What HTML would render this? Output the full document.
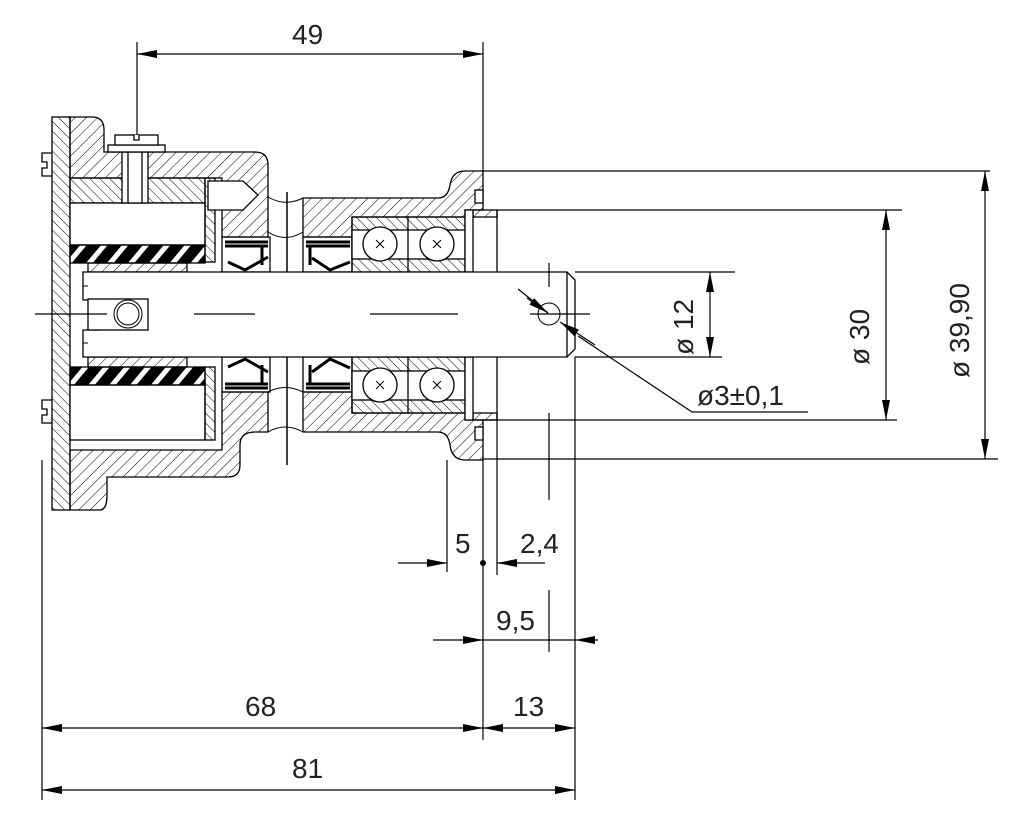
<!DOCTYPE html>
<html><head><meta charset="utf-8"><style>
html,body{margin:0;padding:0;background:#fff}
svg{display:block}
text{font-family:"Liberation Sans",sans-serif;fill:#222;font-weight:normal}
</style></head><body>
<svg width="1016" height="814" viewBox="0 0 1016 814" xmlns="http://www.w3.org/2000/svg">
<defs>
<pattern id="h1" patternUnits="userSpaceOnUse" width="8" height="8" patternTransform="rotate(45)">
<line x1="0" y1="0" x2="0" y2="8" stroke="#000" stroke-width="1"/></pattern>
<pattern id="h2" patternUnits="userSpaceOnUse" width="7" height="7" patternTransform="rotate(-45)">
<line x1="0" y1="0" x2="0" y2="7" stroke="#000" stroke-width="1"/></pattern>
<pattern id="sp" patternUnits="userSpaceOnUse" width="16" height="20" patternTransform="rotate(40)">
<rect x="0" y="0" width="11" height="20" fill="#000"/></pattern>
<marker id="a" viewBox="0 0 20 8" refX="20" refY="4" markerWidth="20" markerHeight="8" markerUnits="userSpaceOnUse" orient="auto-start-reverse"><path d="M0,0L20,4L0,8z" fill="#000"/></marker>
</defs>
<g stroke="#000" stroke-width="1.3" fill="none">
<rect x="52" y="117" width="18" height="393" fill="url(#h2)"/>
<path d="M52,153H42V162H47V168H42V176H52M52,400H42V409H47V415H42V423H52"/>
<path d="M70,117H92Q104,117 104,130V152H255Q268,152 268,165V237H222V178H70Z" fill="url(#h1)"/>
<path d="M70,510H100Q107,510 107,495V477H228Q240,477 240,465V445Q240,432 255,432H268V392H222V450H70Z" fill="url(#h1)"/>
<rect x="70" y="178" width="135" height="25" fill="url(#h2)"/>
<rect x="70" y="203" width="135" height="42" fill="#fff"/>
<rect x="70" y="385" width="135" height="55" fill="#fff"/>
<rect x="205" y="178" width="10" height="84" fill="url(#h2)"/>
<rect x="205" y="367" width="10" height="73" fill="url(#h2)"/>
<rect x="122" y="152" width="26" height="51" fill="#fff"/>
<line x1="128" y1="152" x2="128" y2="203"/><line x1="142" y1="152" x2="142" y2="203"/>
<rect x="108" y="145" width="57" height="7" fill="#fff"/>
<rect x="115" y="135" width="43" height="10" fill="#fff"/>
<path d="M134,135V140H139V135" fill="#fff"/>
<path d="M208,181H243L258,195L243,210H208Z" fill="#fff"/>
<rect x="70" y="245" width="135" height="18" fill="url(#sp)"/>
<rect x="70" y="367" width="135" height="18" fill="url(#sp)"/>
<rect x="88" y="263" width="99" height="9" fill="url(#h1)"/>
<rect x="88" y="357" width="99" height="10" fill="url(#h1)"/>
<path d="M222,237H270V272H222Z"/>
<path d="M225,242H268M225,246H268M262,246V265M228,262L245,270L268,257" stroke-width="3"/>
<path d="M222,357H270V392H222Z"/>
<path d="M225,388H268M225,384H268M262,384V365M228,367L245,359L268,372" stroke-width="3"/>
<path d="M268,197Q285,207 303,198M268,232Q285,243 303,232M268,392Q285,383 303,392M268,432Q285,422 303,432" stroke-width="1"/>
<line x1="287" y1="192" x2="287" y2="283" stroke-width="1.5"/>
<line x1="287" y1="340" x2="287" y2="465" stroke-width="1.5"/>
<path d="M303,198H438Q448,198 450,185Q452,171 465,171H483V210H465V217H352V237H303Z" fill="url(#h1)"/>
<path d="M303,432H438Q448,432 450,445Q452,460 465,460H483V420H465V413H352V392H303Z" fill="url(#h1)"/>
<rect x="473" y="210" width="24" height="7" fill="url(#h1)"/>
<rect x="473" y="413" width="24" height="7" fill="url(#h1)"/>
<rect x="475" y="190" width="8" height="13" fill="#fff"/>
<rect x="475" y="427" width="8" height="13" fill="#fff"/>
<path d="M303,237H352V272H303Z"/>
<path d="M306,242H350M306,246H350M310,246V265M312,258L330,270L350,262" stroke-width="3"/>
<path d="M303,357H352V392H303Z"/>
<path d="M306,388H350M306,384H350M310,384V365M312,372L330,359L350,368" stroke-width="3"/>
<rect x="352" y="217" width="113" height="55" fill="url(#h2)"/>
<rect x="352" y="230" width="113" height="29" fill="#fff"/>
<line x1="408" y1="217" x2="408" y2="272"/>
<rect x="352" y="357" width="113" height="56" fill="url(#h2)"/>
<rect x="352" y="371" width="113" height="29" fill="#fff"/>
<line x1="408" y1="357" x2="408" y2="413"/>
<g fill="#fff"><circle cx="380" cy="244" r="17"/><circle cx="437" cy="244" r="17"/><circle cx="380" cy="385" r="17"/><circle cx="437" cy="385" r="17"/></g>
<path d="M376,240l8,8M384,240l-8,8M433,240l8,8M441,240l-8,8M376,381l8,8M384,381l-8,8M433,381l8,8M441,381l-8,8" stroke-width="1"/>
<rect x="465" y="210" width="8" height="62" fill="#fff"/>
<rect x="465" y="357" width="8" height="63" fill="#fff"/>
<line x1="497" y1="210" x2="497" y2="272"/><line x1="497" y1="357" x2="497" y2="420"/>
<path d="M83,272H567L575,280V349L567,357H83V330H100V300H83Z" fill="#fff"/>
<path d="M83,272V285M83,345V357M88,286H83V300M88,343H83V330" stroke-width="1"/>
<line x1="567" y1="272" x2="567" y2="357"/>
<rect x="88" y="299" width="60" height="31" fill="#fff"/>
<circle cx="128" cy="314" r="14" stroke-width="1"/><circle cx="128" cy="314" r="11" stroke-width="1"/>
<circle cx="549" cy="314" r="11" stroke-width="1"/>
<g stroke-width="1.2"><line x1="35" y1="314" x2="107" y2="314"/><line x1="194" y1="314" x2="255" y2="314"/><line x1="370" y1="314" x2="458" y2="314"/><line x1="530" y1="314" x2="590" y2="314"/>
<line x1="549" y1="263" x2="549" y2="287"/><line x1="549" y1="413" x2="549" y2="500"/></g>
</g>
<g stroke="#000" stroke-width="1.2" fill="none">
<line x1="137" y1="42" x2="137" y2="135"/><line x1="483" y1="42" x2="483" y2="171"/>
<line x1="137" y1="54" x2="483" y2="54" marker-start="url(#a)" marker-end="url(#a)"/>
<line x1="483" y1="171" x2="990" y2="171"/><line x1="483" y1="459" x2="998" y2="459"/>
<line x1="985" y1="171" x2="985" y2="459" marker-start="url(#a)" marker-end="url(#a)"/>
<line x1="497" y1="210" x2="902" y2="210"/><line x1="483" y1="420" x2="897" y2="420"/>
<line x1="886" y1="210" x2="886" y2="420" marker-start="url(#a)" marker-end="url(#a)"/>
<line x1="575" y1="272" x2="735" y2="272"/><line x1="575" y1="357" x2="722" y2="357"/>
<line x1="710" y1="272" x2="710" y2="357" marker-start="url(#a)" marker-end="url(#a)"/>
<path d="M518,289L548,313M578,336L692,412H808"/>
<line x1="527" y1="298" x2="548" y2="313" marker-end="url(#a)"/>
<line x1="595" y1="345" x2="560" y2="322" marker-end="url(#a)"/>
<line x1="42" y1="460" x2="42" y2="800"/><line x1="483" y1="460" x2="483" y2="740"/><line x1="575" y1="357" x2="575" y2="800"/>
<line x1="447" y1="460" x2="447" y2="572"/><line x1="497" y1="420" x2="497" y2="575"/><line x1="549" y1="590" x2="549" y2="652"/>
<line x1="398" y1="563" x2="447" y2="563" marker-end="url(#a)"/><line x1="545" y1="563" x2="497" y2="563" marker-end="url(#a)"/>
<line x1="433" y1="640" x2="483" y2="640" marker-end="url(#a)"/><line x1="598" y1="640" x2="575" y2="640" marker-end="url(#a)"/>
<line x1="483" y1="640" x2="575" y2="640"/>
<line x1="42" y1="728" x2="483" y2="728" marker-start="url(#a)" marker-end="url(#a)"/>
<line x1="483" y1="728" x2="575" y2="728" marker-start="url(#a)" marker-end="url(#a)"/>
<line x1="42" y1="790" x2="575" y2="790" marker-start="url(#a)" marker-end="url(#a)"/>
</g>
<circle cx="483" cy="563" r="3" fill="#000"/>
<g font-size="28">
<text x="292" y="44">49</text>
<text x="455" y="553">5</text>
<text x="520" y="553">2,4</text>
<text x="496" y="630">9,5</text>
<text x="245" y="716">68</text>
<text x="513" y="716">13</text>
<text x="292" y="778">81</text>
<text x="697" y="405">ø3±0,1</text>
<text transform="translate(693,355) rotate(-90)">ø 12</text>
<text transform="translate(869,365) rotate(-90)">ø 30</text>
<text transform="translate(969,378) rotate(-90)">ø 39,90</text>
</g>
</svg>
</body></html>
